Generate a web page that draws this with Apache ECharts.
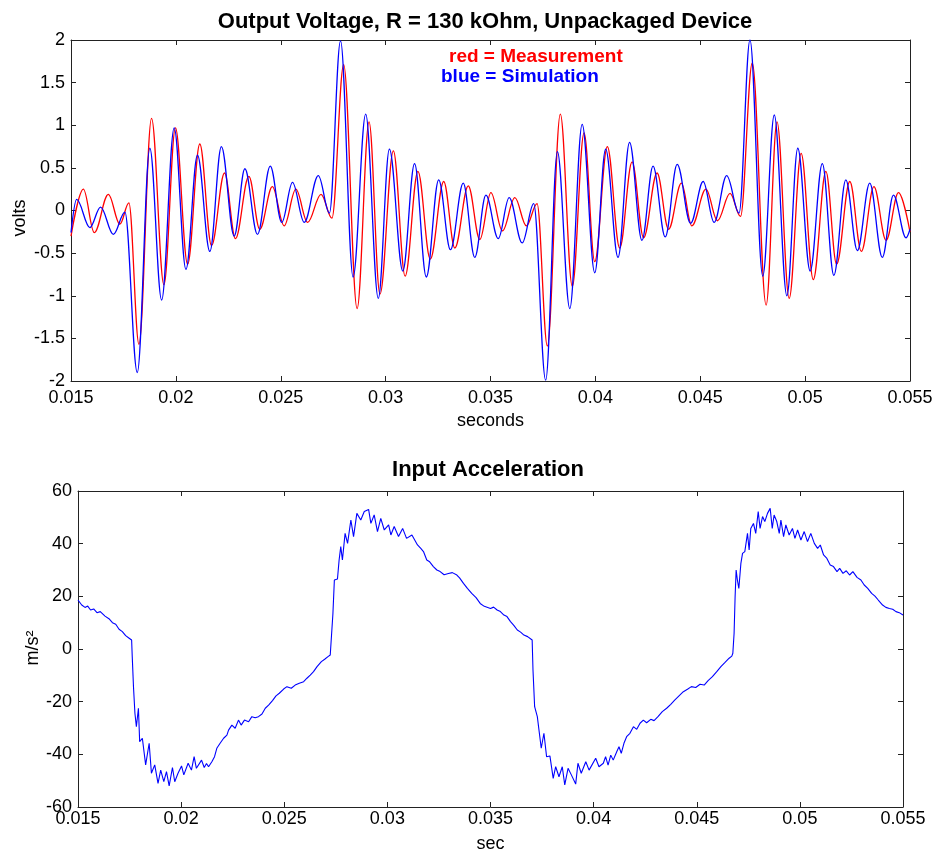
<!DOCTYPE html>
<html>
<head>
<meta charset="utf-8">
<script src="https://cdn.jsdelivr.net/npm/echarts@6/dist/echarts.min.js"></script>
<style>
  html, body { margin: 0; padding: 0; background: #fff; }
  #chart { width: 933px; height: 850px; }
</style>
</head>
<body>
<div id="chart"></div>
<script>
// time in ms (peaks / troughs of the oscillation)
var measT = [15, 15.59, 16.11, 16.78, 17.33, 17.76, 18.24, 18.84, 19.43, 19.98, 20.56, 21.14, 21.7, 22.32, 22.84, 23.48, 24.0, 24.6,
  25.16, 25.72, 26.28, 26.92, 27.44, 28.0, 28.64, 29.21, 29.73, 30.37, 30.93, 31.54, 32.13, 32.77, 33.3, 33.94, 34.49,
  35.02, 35.57, 36.16, 36.71, 37.22, 37.71, 38.33, 38.9, 39.46, 39.97, 40.57, 41.16, 41.75, 42.3, 42.94, 43.49, 44.1, 44.6,
  45.27, 45.82, 46.42, 46.92, 47.48, 48.14, 48.66, 49.24, 49.81, 50.39, 50.99, 51.5, 52.13, 52.68, 53.28, 53.86, 54.45, 55];
var measV = [-0.3, 0.25, -0.26, 0.19, -0.16, 0.09, -1.57, 1.08, -0.87, 0.97, -0.63, 0.78, -0.41, 0.44, -0.33, 0.4, -0.22, 0.28,
  -0.18, 0.25, -0.14, 0.19, -0.09, 1.71, -1.15, 1.04, -0.98, 0.7, -0.77, 0.46, -0.57, 0.34, -0.44, 0.29, -0.34,
  0.21, -0.24, 0.15, -0.18, 0.08, -1.59, 1.13, -0.89, 0.91, -0.6, 0.75, -0.44, 0.57, -0.32, 0.44, -0.22, 0.32, -0.18,
  0.25, -0.12, 0.2, -0.07, 1.73, -1.11, 1.04, -1.03, 0.67, -0.81, 0.46, -0.63, 0.34, -0.48, 0.28, -0.35, 0.21, -0.25];

var simT = [15, 15.27, 15.9, 16.41, 17.02, 17.57, 18.16, 18.76, 19.32, 19.92, 20.48, 21.03, 21.62, 22.17, 22.78, 23.29, 23.89, 24.5,
  25.05, 25.56, 26.12, 26.79, 27.32, 27.85, 28.45, 29.05, 29.65, 30.18, 30.82, 31.38, 31.94, 32.53, 33.09, 33.7, 34.25,
  34.78, 35.37, 35.89, 36.51, 37.06, 37.63, 38.19, 38.78, 39.37, 39.97, 40.49, 41.08, 41.63, 42.22, 42.75, 43.33, 43.9, 44.54,
  45.14, 45.66, 46.26, 46.85, 47.37, 47.98, 48.53, 49.13, 49.65, 50.24, 50.82, 51.37, 51.94, 52.49, 53.08, 53.68, 54.21, 54.81, 55];
var simV = [-0.26, 0.13, -0.2, 0.04, -0.28, -0.02, -1.9, 0.73, -1.05, 0.97, -0.69, 0.65, -0.48, 0.75, -0.3, 0.49, -0.28, 0.52,
  -0.14, 0.33, -0.14, 0.41, -0.03, 1.99, -0.78, 1.13, -1.03, 0.72, -0.71, 0.55, -0.78, 0.36, -0.46, 0.32, -0.55,
  0.18, -0.33, 0.15, -0.38, 0.08, -1.99, 0.69, -1.15, 1.01, -0.73, 0.72, -0.55, 0.8, -0.35, 0.52, -0.31, 0.54, -0.15,
  0.34, -0.14, 0.41, -0.03, 2.0, -0.77, 1.12, -1.0, 0.73, -0.71, 0.55, -0.76, 0.36, -0.47, 0.32, -0.55, 0.18, -0.32, -0.22];

var accT = [15.00, 15.18, 15.34, 15.47, 15.61, 15.76, 15.92, 16.08, 16.31, 16.50,
  16.67, 16.83, 16.99, 17.15, 17.31, 17.48, 17.60, 17.63, 17.69, 17.76,
  17.83, 17.93, 17.99, 18.12, 18.28, 18.45, 18.56, 18.72, 18.88, 19.01,
  19.16, 19.29, 19.42, 19.58, 19.69, 19.85, 20.02, 20.13, 20.34, 20.5,
  20.63, 20.74, 20.99, 21.12, 21.23, 21.33, 21.49, 21.62, 21.73, 21.89,
  22.06, 22.22, 22.30, 22.46, 22.62, 22.78, 22.91, 23.07, 23.27, 23.43,
  23.59, 23.75, 23.92, 24.08, 24.24, 24.43, 24.60, 24.76, 24.97, 25.13,
  25.34, 25.53, 25.73, 25.94, 26.10, 26.26, 26.42, 26.59, 26.80, 26.96,
  27.12, 27.23, 27.31, 27.36, 27.43, 27.58, 27.66, 27.74, 27.82, 27.95,
  28.07, 28.23, 28.36, 28.52, 28.71, 28.88, 29.09, 29.20, 29.36, 29.52,
  29.68, 29.85, 30.06, 30.17, 30.33, 30.54, 30.74, 30.93, 31.19, 31.46,
  31.62, 31.75, 31.91, 32.05, 32.23, 32.40, 32.56, 32.75, 32.96, 33.15,
  33.37, 33.5, 33.69, 33.88, 34.09, 34.3, 34.5, 34.7, 35.0, 35.15,
  35.32, 35.48, 35.65, 35.8, 35.97, 36.13, 36.30, 36.46, 36.62, 36.8,
  37.02, 37.06, 37.14, 37.27, 37.36, 37.46, 37.59, 37.72, 37.88, 38.04,
  38.16, 38.32, 38.48, 38.6, 38.76, 38.92, 39.13, 39.24, 39.4, 39.62,
  39.78, 40.1, 40.26, 40.47, 40.58, 40.70, 40.83, 40.95, 41.12, 41.23,
  41.34, 41.47, 41.60, 41.76, 41.93, 42.09, 42.25, 42.41, 42.57, 42.77,
  42.93, 43.12, 43.33, 43.54, 43.74, 43.93, 44.14, 44.35, 44.55, 44.74,
  44.95, 45.16, 45.36, 45.55, 45.76, 45.97, 46.17, 46.36, 46.57, 46.70,
  46.75, 46.81, 46.86, 46.91, 46.97, 47.04, 47.14, 47.22, 47.33, 47.46,
  47.54, 47.62, 47.75, 47.86, 47.98, 48.07, 48.19, 48.30, 48.43, 48.56,
  48.66, 48.75, 48.88, 49.00, 49.08, 49.21, 49.32, 49.48, 49.64, 49.76,
  49.89, 50.05, 50.21, 50.37, 50.53, 50.70, 50.86, 50.99, 51.15, 51.31,
  51.47, 51.63, 51.80, 51.93, 52.09, 52.25, 52.41, 52.57, 52.77, 52.96,
  53.12, 53.29, 53.48, 53.64, 53.80, 54.01, 54.17, 54.34, 54.50, 54.66,
  54.82, 55];
var accV = [18.6, 16.7, 15.8, 16.3, 14.8, 15.2, 13.8, 14.2, 12.5, 11.5,
  10.0, 9.4, 7.5, 6.6, 5.1, 4.1, 3.4, -2.9, -14.3, -24.4,
  -29.5, -22.5, -35.2, -33.9, -44, -35.8, -47.2, -44, -51, -46,
  -50.4, -46.6, -52, -45, -50.4, -47.2, -44.4, -47.8, -43.4, -46,
  -40.9, -45.3, -42.2, -45.0, -43.5, -44.7, -42.8, -40.9, -37.7, -35.8,
  -33.9, -32.7, -30.8, -28.9, -30.1, -27.0, -28.9, -27.0, -27.6, -25.7,
  -26.1, -25.7, -24.7, -22.5, -21.3, -19.6, -17.8, -16.8, -15.2, -14.3,
  -14.9, -13.7, -13.0, -12.4, -11.1, -9.9, -8.6, -6.7, -4.8, -3.9,
  -2.9, -2.3, -1.6, 13.5, 26.2, 26.6, 33.8, 38.9, 33.8, 43.9,
  40.1, 49, 42.7, 51.5, 49, 52.2, 53, 47.7, 50.9, 44.6,
  49.6, 45.2, 47.1, 43.3, 46.5, 42.7, 45.8, 42, 43.3, 39.5,
  38.2, 37, 33.8, 33.1, 31.3, 30.0, 29.4, 28.2, 28.7, 29.0,
  28.1, 27.0, 24.9, 23.0, 21.1, 19.5, 17.3, 16.2, 15.4, 15.9,
  14.8, 14.2, 12.9, 12.3, 10.4, 9.0, 7.2, 6.4, 5.3, 4.7,
  3.4, -8, -21.9, -25.7, -25, -37.7, -32, -40.9, -40.6, -49.1,
  -44.7, -48.5, -44.7, -51.6, -45.3, -47.8, -51.3, -43.4, -47.2, -42.8,
  -46, -41.5, -44.7, -43.4, -40.9, -44.1, -40.3, -42.2, -39.0, -37.1,
  -39.6, -35.8, -33.3, -32.0, -29.5, -30.5, -28.2, -27.0, -28.0, -26.7,
  -27.2, -25.7, -23.8, -22.5, -21.0, -19.4, -17.8, -16.2, -15.3, -14.3,
  -14.6, -13.4, -13.7, -12.0, -10.5, -8.6, -6.7, -5.2, -3.5, -2.7,
  -1.6, 5.9, 19.9, 30, 26.2, 23, 32.5, 36.3, 37, 43.9,
  37.6, 45.8, 47.7, 43.9, 52.2, 45.8, 50.3, 48.4, 51.5, 53.4,
  45.8, 50.9, 48.4, 43.9, 49.0, 42.7, 47.1, 43.3, 45.8, 42.0,
  45.2, 41.4, 44.6, 40.8, 43.9, 40.1, 38.2, 39.5, 35.7, 34.4,
  31.9, 31.3, 29.4, 30.6, 28.7, 29.7, 28.1, 29.4, 27.2, 26.2,
  24.3, 23.0, 21.1, 20.1, 18.6, 16.7, 15.8, 15.4, 15.1, 14.2,
  13.8, 12.9];

function pairs(xs, ys) {
  return xs.map(function (x, i) { return [x, ys[i]]; });
}

var FONT = "'Liberation Sans', Arial, sans-serif";
var lineCol = '#222';

function xAx(grid, name, gap, margin) {
  return {
    type: 'value', gridIndex: grid, min: 15, max: 55, interval: 5,
    name: name, nameLocation: 'middle', nameGap: gap,
    nameTextStyle: { fontFamily: FONT, fontSize: 18, color: '#000' },
    axisLine: { onZero: false, lineStyle: { color: lineCol, width: 1 } },
    axisTick: { inside: true, length: 5, lineStyle: { color: lineCol } },
    axisLabel: { fontFamily: FONT, fontSize: 18, color: '#000', margin: margin,
      formatter: function (v) { return String(v / 1000); } },
    splitLine: { show: false }
  };
}
function xMirror(grid) {
  return {
    type: 'value', gridIndex: grid, min: 15, max: 55, interval: 5, position: 'top',
    axisLine: { onZero: false, lineStyle: { color: lineCol, width: 1 } },
    axisTick: { inside: true, length: 5, lineStyle: { color: lineCol } },
    axisLabel: { show: false }, splitLine: { show: false }
  };
}
function yAx(grid, min, max, step, margin) {
  return {
    type: 'value', gridIndex: grid, min: min, max: max, interval: step,
    axisLine: { show: true, onZero: false, lineStyle: { color: lineCol, width: 1 } },
    axisTick: { show: true, inside: true, length: 5, lineStyle: { color: lineCol } },
    axisLabel: { fontFamily: FONT, fontSize: 18, color: '#000', margin: margin },
    splitLine: { show: false }
  };
}
function yMirror(grid, min, max, step) {
  return {
    type: 'value', gridIndex: grid, min: min, max: max, interval: step, position: 'right',
    axisLine: { show: true, onZero: false, lineStyle: { color: lineCol, width: 1 } },
    axisTick: { show: true, inside: true, length: 5, lineStyle: { color: lineCol } },
    axisLabel: { show: false }, splitLine: { show: false }
  };
}
function yName(text, x, y) {
  return { type: 'text', x: x, y: y, rotation: Math.PI / 2,
    style: { text: text, fill: '#000', font: '18px ' + FONT, align: 'center', verticalAlign: 'middle' } };
}

var chart = echarts.init(document.getElementById('chart'), null, { renderer: 'canvas' });
chart.setOption({
  backgroundColor: '#fff',
  animation: false,
  title: [
    { text: 'Output Voltage, R = 130 kOhm, Unpackaged Device', left: 480, top: 6, textAlign: 'center',
      textStyle: { fontFamily: FONT, fontSize: 22, fontWeight: 'bold', color: '#000' } },
    { text: 'Input Acceleration', left: 483, top: 454, textAlign: 'center',
      textStyle: { fontFamily: FONT, fontSize: 22, fontWeight: 'bold', color: '#000' } }
  ],
  graphic: [
    { type: 'text', left: 449, top: 47, style: { text: 'red = Measurement', fill: '#ff0000',
      font: 'bold 19px ' + FONT } },
    { type: 'text', left: 441, top: 67, style: { text: 'blue = Simulation', fill: '#0000ff',
      font: 'bold 19px ' + FONT } },
    yName('volts', 20, 218),
    yName('m/s²', 33, 648)
  ],
  grid: [
    { left: 71, right: 23, top: 40, height: 341, outerBoundsMode: 'none' },
    { left: 78, right: 30, top: 491, height: 316, outerBoundsMode: 'none' }
  ],
  xAxis: [xAx(0, 'seconds', 31, 8), xMirror(0), xAx(1, 'sec', 28, 3), xMirror(1)],
  yAxis: [yAx(0, -2, 2, 0.5, 6), yMirror(0, -2, 2, 0.5),
          yAx(1, -60, 60, 20, 6), yMirror(1, -60, 60, 20)],
  series: [
    { name: 'Measurement', type: 'line', xAxisIndex: 0, yAxisIndex: 0, data: pairs(measT, measV),
      smooth: 0.36, smoothMonotone: 'x', showSymbol: false, lineStyle: { color: '#ff0000', width: 1.3 } },
    { name: 'Simulation', type: 'line', xAxisIndex: 0, yAxisIndex: 0, data: pairs(simT, simV),
      smooth: 0.36, smoothMonotone: 'x', showSymbol: false, lineStyle: { color: '#0000ff', width: 1.3 } },
    { name: 'Acceleration', type: 'line', xAxisIndex: 2, yAxisIndex: 2, data: pairs(accT, accV),
      showSymbol: false, lineStyle: { color: '#0000ff', width: 1.1 } }
  ]
});
</script>
</body>
</html>
